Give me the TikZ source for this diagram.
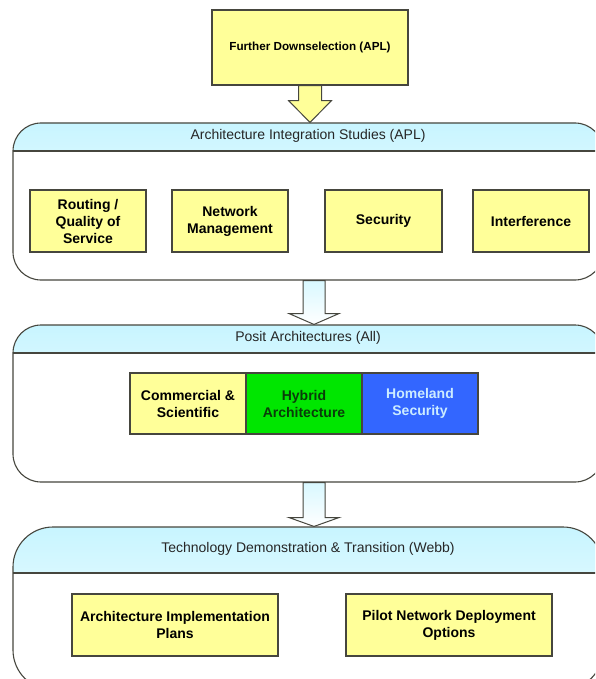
\documentclass[tikz,border=0pt]{standalone}
\usepackage{fontspec}
\setmainfont{Liberation Sans}
\usetikzlibrary{calc}
\definecolor{boxyellow}{RGB}{255,255,153}
\definecolor{edge}{RGB}{70,70,62}
\definecolor{hgreen}{RGB}{0,230,0}
\definecolor{hgreentext}{RGB}{10,60,10}
\definecolor{hblue}{RGB}{51,102,255}
\definecolor{hbluetext}{RGB}{204,236,255}
\definecolor{headcyan}{RGB}{200,245,255}
\begin{document}
\begin{tikzpicture}[x=1pt,y=-1pt,
  item/.style={draw=edge, line width=1.1pt, fill=boxyellow, align=center, inner sep=2pt,
    font=\bfseries\fontsize{14}{17}\selectfont},
  container/.style={draw=edge, line width=1.1pt, fill=white,
    path picture={
      \shade[sharp corners, top color=headcyan, bottom color=white]
        (path picture bounding box.north west) rectangle ([yshift=-#1]path picture bounding box.north east);
      \draw[sharp corners, edge, line width=1.1pt]
        ([yshift=-#1]path picture bounding box.north west) -- ([yshift=-#1]path picture bounding box.north east);
    }},
  htext/.style={font=\fontsize{14}{17}\selectfont, text=black!85},
  blockarrow/.style={draw=edge, line width=1pt, line join=miter}
]
\clip (0,0) rectangle (595,679);

% top box
\node[item, minimum width=196pt, minimum height=75pt, font=\bfseries\fontsize{11.7}{14}\selectfont] (top) at (310,47.5) {Further Downselection (APL)};

% containers
\node[container=28pt, rounded corners=28pt, minimum width=590pt, minimum height=157pt] (c1) at (308,201.5) {};
\node[container=28pt, rounded corners=28pt, minimum width=590pt, minimum height=157pt] (c2) at (308,403.5) {};
\node[container=46pt, rounded corners=40pt, minimum width=590pt, minimum height=163pt] (c3) at (308,608.5) {};

% headers
\node[htext] (h1) at ($(c1.north)+(0,13)$) {Architecture Integration Studies (APL)};
\node[htext] (h2) at ($(c2.north)+(0,13)$) {Posit Architectures (All)};
\node[htext] (h3) at ($(c3.north)+(0,22)$) {Technology Demonstration \& Transition (Webb)};

% block arrows
\draw[blockarrow, fill=boxyellow]
  ($(top.south)+(-11.5,0)$) -- ($(top.south)+(-11.5,15)$) -- ($(top.south)+(-21.5,15)$)
  -- (top.south |- c1.north)
  -- ($(top.south)+(21.5,15)$) -- ($(top.south)+(11.5,15)$) -- ($(top.south)+(11.5,0)$) -- cycle;
\draw[blockarrow, top color=headcyan!70, bottom color=white]
  ($(c1.south)+(-5,0)$) -- ($(c1.south)+(-5,33)$) -- ($(c1.south)+(-19,33)$)
  -- ($(c2.north)+(6,0)$)
  -- ($(c1.south)+(31,33)$) -- ($(c1.south)+(17,33)$) -- ($(c1.south)+(17,0)$) -- cycle;
\draw[blockarrow, top color=headcyan!70, bottom color=white]
  ($(c2.south)+(-5,0)$) -- ($(c2.south)+(-5,35)$) -- ($(c2.south)+(-19,35)$)
  -- ($(c3.north)+(6,0)$)
  -- ($(c2.south)+(31,35)$) -- ($(c2.south)+(17,35)$) -- ($(c2.south)+(17,0)$) -- cycle;

% container 1 items
\node[item, minimum width=116pt, minimum height=62pt] (rq) at (88,221) {Routing /\\Quality of\\Service};
\node[item, minimum width=116pt, minimum height=62pt] (nm) at (230,221) {Network\\Management};
\node[item, minimum width=117pt, minimum height=62pt] (sec) at (383.5,221) {Security};
\node[item, minimum width=116pt, minimum height=62pt] (intf) at (531,221) {Interference};

% container 2 items
\node[item, minimum width=116pt, minimum height=61pt] (cs) at (188,403.5) {Commercial \&\\Scientific};
\node[item, fill=hgreen, text=hgreentext, minimum width=116pt, minimum height=61pt] (hy) at (304,403.5) {Hybrid\\Architecture};
\node[item, fill=hblue, text=hbluetext, minimum width=116pt, minimum height=61pt] (hs) at (420,403.5) {Homeland\\Security};

% container 3 items
\node[item, minimum width=206pt, minimum height=62pt] (aip) at (175,625) {Architecture Implementation\\Plans};
\node[item, minimum width=206pt, minimum height=62pt] (pnd) at (449,625) {Pilot Network Deployment\\Options};
\end{tikzpicture}
\end{document}
